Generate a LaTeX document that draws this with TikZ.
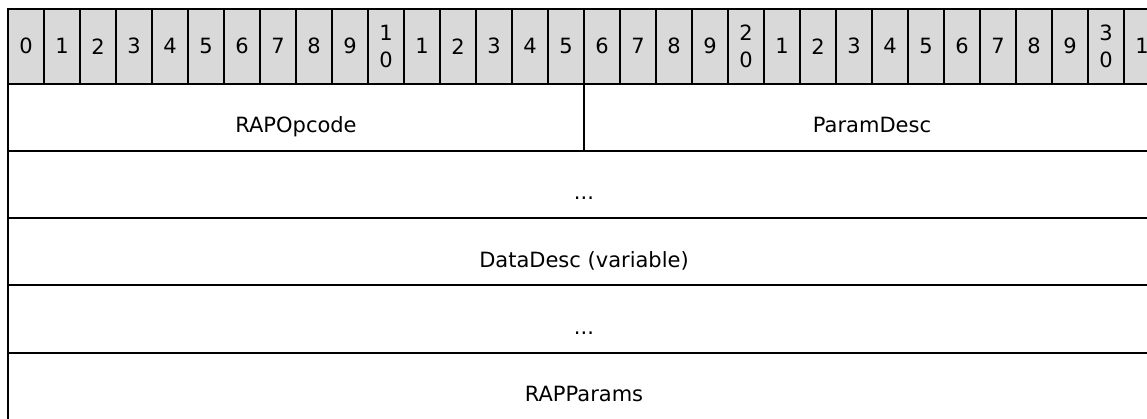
\documentclass[tikz,border=0pt]{standalone}
\usepackage{fontspec}
\setmainfont{DejaVu Sans}
\definecolor{hdrgray}{HTML}{D9D9D9}
\begin{document}
\begin{tikzpicture}[x=1pt,y=-1pt,
  rule/.style={line width=2pt, draw=black},
  bitlabel/.style={inner sep=0pt, font=\fontsize{21}{26.5}\selectfont, align=center},
  field/.style={inner sep=0pt, anchor=base, font=\fontsize{21}{26.5}\selectfont}]
\useasboundingbox (0,0) rectangle (1147,418);
\begin{scope}
  \clip (0,0) rectangle (1147,418);
  % header band with bit numbers
  \fill[hdrgray] (8,9) rectangle (1160,83.7);
  \foreach \i in {0,...,32}
    \draw[rule] ({8+36*\i},9) -- ({8+36*\i},83.7);
  \draw[rule] (7,9) -- (1160,9);
  \draw[rule] (7,83.7) -- (1160,83.7);
  % left border and row separators
  \draw[rule] (8,8) -- (8,430);
  \draw[rule] (8,150.7) -- (1160,150.7);
  \draw[rule] (8,218) -- (1160,218);
  \draw[rule] (8,285.2) -- (1160,285.2);
  \draw[rule] (8,352.6) -- (1160,352.6);
  \draw[rule] (8,419.8) -- (1160,419.8);
  % split of the first word
  \draw[rule] (584,83.7) -- (584,150.7);
  % bit numbers
  \foreach \i in {0,...,31}{
    \pgfmathtruncatemacro{\tens}{\i/10}
    \pgfmathtruncatemacro{\ones}{mod(\i,10)}
    \ifnum\i>0\relax
      \ifnum\ones=0\relax \def\lbl{\tens\\0}\else \def\lbl{\ones}\fi
    \else \def\lbl{0}\fi
    \node[bitlabel] (h\i) at ({26+36*\i},46.3) {\lbl};
  }
  % field names
  \node[field] (opcode)    at (296,132.7) {RAPOpcode};
  \node[field] (paramdesc) at (872,132.7) {ParamDesc};
  \node[field] (dotsA)     at (584,199.7) {...};
  \node[field] (datadesc)  at (584,267)   {DataDesc (variable)};
  \node[field] (dotsB)     at (584,334.2) {...};
  \node[field] (rapparams) at (584,401.6) {RAPParams};
\end{scope}
\end{tikzpicture}
\end{document}
